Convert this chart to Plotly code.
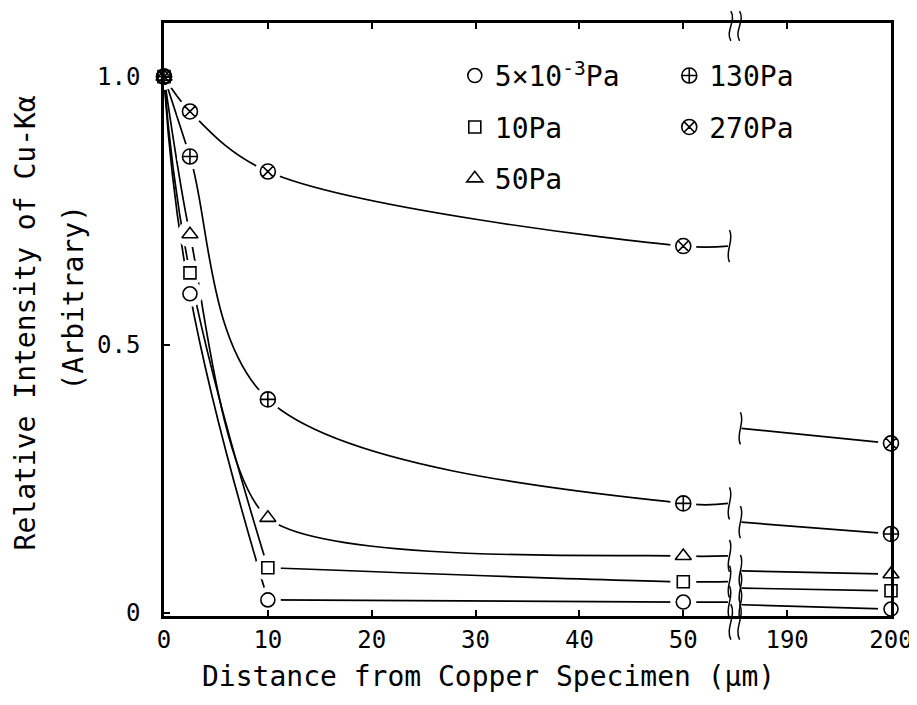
import plotly.graph_objects as go

# ---------------- data ----------------
x_near = [0, 2.5, 10, 50]        # distance (um), left of the axis break
x_far = [200]                     # distance (um), right of the axis break
series_labels = ["5×10<sup>-3</sup>Pa", "10Pa", "50Pa", "130Pa", "270Pa"]
vals_5e3 = [1.0, 0.595, 0.024, 0.020, 0.007]
vals_10 = [1.0, 0.634, 0.084, 0.058, 0.041]
vals_50 = [1.0, 0.706, 0.177, 0.106, 0.072]
vals_130 = [1.0, 0.851, 0.398, 0.204, 0.147]
vals_270 = [1.0, 0.935, 0.823, 0.684, 0.316]
# level at which each curve re-emerges on the right of the axis break
resume_vals = [0.015, 0.046, 0.078, 0.169, 0.344]

x_tick_values = [0, 10, 20, 30, 40, 50, 190, 200]
x_tick_labels = ["0", "10", "20", "30", "40", "50", "190", "200"]
y_tick_values = [0, 0.5, 1.0]
y_tick_labels = ["0", "0.5", "1.0"]

# ---------------- broken-axis mapping ----------------
GAP = 130  # 50 -> 190 is compressed to one major step


def disp(x):
    return x if x <= 50 else x - GAP


BREAK_L = 54.3   # end of the left-hand segment (display units)
BREAK_R = 55.6   # start of the right-hand segment

all_vals = [vals_5e3, vals_10, vals_50, vals_130, vals_270]
symbols = ["circle-open", "square-open", "triangle-up-open",
           "circle-cross-open", "circle-x-open"]
sizes = [14, 12, 14, 15, 15]
legend_ids = ["legend", "legend", "legend", "legend2", "legend2"]
# curves with an abrupt knee are drawn in two smooth pieces (split at 10 um)
split_at_knee = [True, True, False, False, False]
smooth_amt = [1.3, 1.3, 0.7, 1.0, 1.0]

FONT = "DejaVu Sans Mono"
fig = go.Figure()

n = len(x_near)
line_style = dict(color="black", width=1.7)
for vals, rv, split, sm in zip(all_vals, resume_vals, split_at_knee, smooth_amt):
    if split:
        xa = [disp(v) for v in x_near[:3]]
        fig.add_trace(go.Scatter(x=xa, y=vals[:3], mode="lines",
                                 line=dict(line_style, shape="spline", smoothing=sm),
                                 showlegend=False, hoverinfo="skip"))
        xb = [disp(v) for v in x_near[2:]] + [BREAK_L]
        yb = vals[2:n] + [vals[n - 1]]
    else:
        xb = [disp(v) for v in x_near] + [BREAK_L]
        yb = vals[:n] + [vals[n - 1]]
    fig.add_trace(go.Scatter(x=xb, y=yb, mode="lines",
                             line=dict(line_style, shape="spline", smoothing=sm),
                             showlegend=False, hoverinfo="skip"))
    # right of the break
    xf = [BREAK_R] + [disp(v) for v in x_far]
    yf = [rv] + vals[n:]
    fig.add_trace(go.Scatter(x=xf, y=yf, mode="lines", line=line_style,
                             showlegend=False, hoverinfo="skip"))

# white halos around the symbols (gaps in the lines)
for vals in all_vals:
    xs = [disp(v) for v in x_near + x_far]
    fig.add_trace(go.Scatter(x=xs, y=vals, mode="markers",
                             marker=dict(symbol="circle", size=26, color="white"),
                             showlegend=False, hoverinfo="skip", cliponaxis=False))

# symbols
for vals, name, sym, sz, lg in zip(all_vals, series_labels, symbols, sizes, legend_ids):
    xs = [disp(v) for v in x_near + x_far]
    fig.add_trace(go.Scatter(x=xs, y=vals, mode="markers", name=name,
                             marker=dict(symbol=sym, size=sz, color="black",
                                         line=dict(color="black", width=1.6)),
                             legend=lg, legendgroup=name, cliponaxis=False))


def squiggle(xc, yc, h, w):
    return (f"M {xc},{yc + h} C {xc + w},{yc + h / 3} "
            f"{xc - w},{yc - h / 3} {xc},{yc - h}")


shapes = []
for vals, rv in zip(all_vals, resume_vals):
    shapes.append(dict(type="path", xref="x", yref="y",
                       path=squiggle(BREAK_L + 0.15, vals[n - 1], 0.03, 0.5),
                       line=dict(color="black", width=1.5)))
    shapes.append(dict(type="path", xref="x", yref="y",
                       path=squiggle(BREAK_R - 0.1, rv, 0.03, 0.5),
                       line=dict(color="black", width=1.5)))

# axis break marks (paper coordinates)
xbk = 55 / 70.0
for dx in (-0.006, 0.006):
    shapes.append(dict(type="path", xref="paper", yref="paper",
                       path=squiggle(xbk + dx, 0.995, 0.025, 0.008),
                       line=dict(color="black", width=1.5)))
    shapes.append(dict(type="path", xref="paper", yref="paper",
                       path=squiggle(xbk + dx, -0.01, 0.03, 0.008),
                       line=dict(color="black", width=1.5)))

fig.update_layout(
    width=917, height=705,
    margin=dict(l=156, r=32, t=13, b=97),
    paper_bgcolor="white", plot_bgcolor="white",
    font=dict(family=FONT, color="black", size=24),
    shapes=shapes,
    xaxis=dict(range=[0, 70], tickvals=[disp(v) for v in x_tick_values],
               ticktext=x_tick_labels, ticks="inside", ticklen=6,
               tickcolor="black", tickwidth=1.5,
               showline=True, linecolor="black", linewidth=2.5, mirror="ticks",
               showgrid=False, zeroline=False,
               tickfont=dict(family=FONT, size=24), ticklabelstandoff=0),
    yaxis=dict(range=[-0.006, 1.10], tickvals=y_tick_values, ticktext=y_tick_labels,
               ticks="inside", ticklen=6, tickcolor="black", tickwidth=1.5,
               showline=True, linecolor="black", linewidth=2.5, mirror=True,
               showgrid=False, zeroline=False,
               tickfont=dict(family=FONT, size=24), ticklabelstandoff=16),
    legend=dict(x=0.40, y=0.953, xanchor="left", yanchor="top",
                bgcolor="rgba(0,0,0,0)", font=dict(family=FONT, size=28),
                tracegroupgap=12, itemwidth=30),
    legend2=dict(x=0.695, y=0.953, xanchor="left", yanchor="top",
                 bgcolor="rgba(0,0,0,0)", font=dict(family=FONT, size=28),
                 tracegroupgap=12, itemwidth=30),
    annotations=[
        dict(text="Distance from Copper Specimen (μm)", xref="paper", yref="paper",
             x=0.447, y=-0.1025, xanchor="center", yanchor="middle",
             showarrow=False, font=dict(family=FONT, size=28)),
        dict(text="Relative Intensity of Cu-Kα", xref="paper", yref="paper",
             x=-0.1907, y=0.494, xanchor="center", yanchor="middle", textangle=-90,
             showarrow=False, font=dict(family=FONT, size=28)),
        dict(text="(Arbitrary)", xref="paper", yref="paper",
             x=-0.1248, y=0.536, xanchor="center", yanchor="middle", textangle=-90,
             showarrow=False, font=dict(family=FONT, size=28)),
    ],
)

fig.write_html("out.html")
